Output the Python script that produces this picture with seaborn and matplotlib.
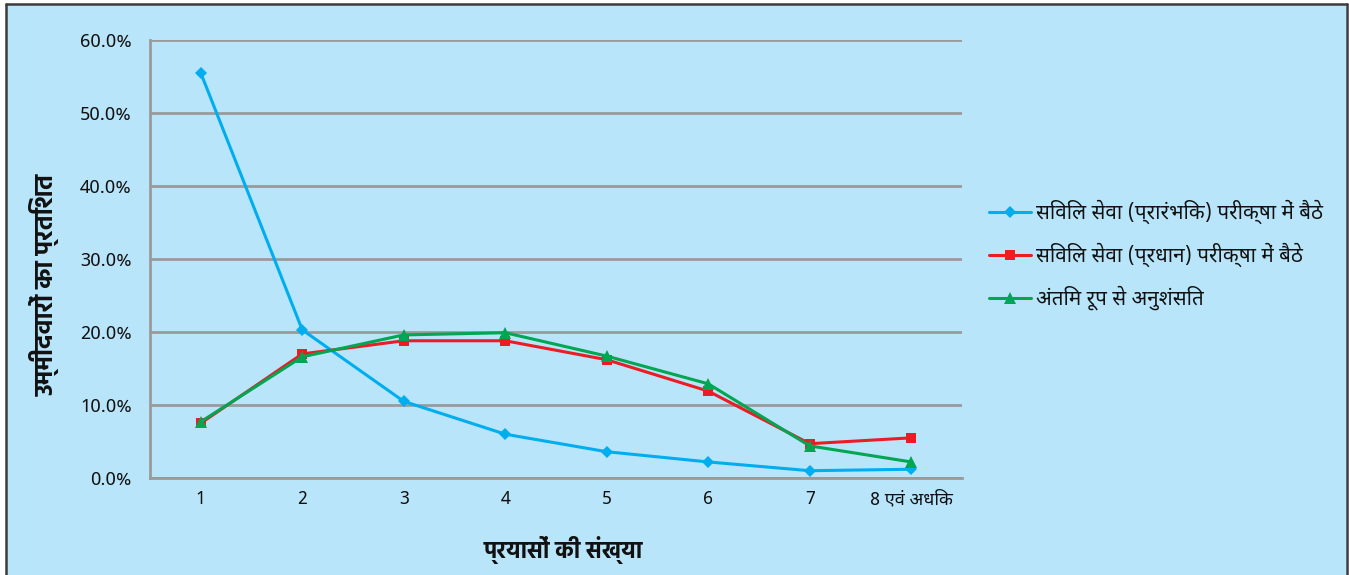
import matplotlib
matplotlib.use("Agg")
import matplotlib.pyplot as plt
from matplotlib.lines import Line2D
from matplotlib.patches import Rectangle
from matplotlib.ticker import FuncFormatter
import numpy as np
import pandas as pd
import seaborn as sns

# Number of attempts (categories)
attempts = ["1", "2", "3", "4", "5", "6", "7", "8 एवं अधिक"]

# Share of candidates (%) per number of attempts
prelims_appeared = [55.5, 20.3, 10.5, 6.0, 3.6, 2.2, 1.0, 1.2]
mains_appeared = [7.5, 17.0, 18.8, 18.8, 16.2, 11.9, 4.7, 5.5]
finally_recommended = [7.7, 16.6, 19.6, 19.9, 16.7, 12.9, 4.4, 2.2]

series_names = [
    "सिविल सेवा (प्रारंभिक) परीक्षा में बैठे",
    "सिविल सेवा (प्रधान) परीक्षा में बैठे",
    "अंतिम रूप से अनुशंसित",
]
series_values = [prelims_appeared, mains_appeared, finally_recommended]
series_colors = ["#00AEEF", "#ED1C24", "#00A651"]
series_markers = ["D", "s", "^"]
series_sizes = [6, 7, 8]

y_label = "उम्मीदवारों का प्रतिशत"
x_label = "प्रयासों की संख्या"

sns.set_theme(style="white")
plt.rcParams["font.family"] = ["Noto Sans Devanagari", "DejaVu Sans"]
bold_family = ["Hind", "Noto Sans Devanagari", "DejaVu Sans"]

W, H = 1349, 575
fig = plt.figure(figsize=(W / 100, H / 100), dpi=100, facecolor="white")

# Panel background and its frame
bg = "#B9E5FA"
fig.patches.append(Rectangle((7 / W, 0), (1346 - 7) / W, (H - 4) / H,
                             transform=fig.transFigure, facecolor=bg,
                             edgecolor="none", zorder=-5))
frame_kw = dict(transform=fig.transFigure, color="#3C3C3C", lw=1.8, zorder=-4)
fig.lines.append(Line2D([6 / W, 6 / W], [0, 1 - 3.5 / H], **frame_kw))
fig.lines.append(Line2D([6 / W, 1346.5 / W], [1 - 3.5 / H, 1 - 3.5 / H], **frame_kw))
fig.lines.append(Line2D([1346.5 / W, 1346.5 / W], [0, 1 - 3.5 / H], **frame_kw))

left, right, top, bottom = 150, 962, 40, 478
ax = fig.add_axes([left / W, (H - bottom) / H, (right - left) / W, (bottom - top) / H])
ax.set_facecolor("none")

rows = []
for name, vals in zip(series_names, series_values):
    for i, v in enumerate(vals):
        rows.append({"pos": i, "value": v, "series": name})
df = pd.DataFrame(rows)

for name, color, marker, ms in zip(series_names, series_colors, series_markers, series_sizes):
    sub = df[df["series"] == name]
    sns.lineplot(data=sub, x="pos", y="value", ax=ax, color=color, lw=2.2,
                 marker=marker, markersize=ms, markeredgewidth=0,
                 label=name, zorder=3)

ax.set_xlim(-0.5, len(attempts) - 0.5)
ax.set_ylim(0, 60)
ax.set_xticks(range(len(attempts)))
ax.set_xticklabels(attempts)
ax.set_yticks(np.arange(0, 61, 10))
ax.yaxis.set_major_formatter(FuncFormatter(lambda v, p: f"{v:.1f}%"))
ax.tick_params(axis="both", length=0, colors="#111111")
ax.tick_params(axis="x", pad=9, labelsize=13)
ax.tick_params(axis="y", pad=13, labelsize=13.5)

ax.grid(axis="y", color="#9A9A9A", lw=2)
ax.grid(axis="x", visible=False)
for s in ["top", "right"]:
    ax.spines[s].set_visible(False)
for s in ["left", "bottom"]:
    ax.spines[s].set_color("#9A9A9A")
    ax.spines[s].set_linewidth(2)

ax.set_xlabel("")
ax.set_ylabel("")
fig.text(563 / W, 1 - 550 / H, x_label, ha="center", va="center",
         fontsize=16.5, fontweight="bold", color="#111111", family=bold_family)
fig.text(45 / W, 1 - 285 / H, y_label, ha="center", va="center", rotation=90,
         fontsize=18, fontweight="bold", color="#111111", family=bold_family)

leg = ax.legend(loc="center left", bbox_to_anchor=(971 / W, 1 - 255 / H),
                bbox_transform=fig.transFigure, frameon=False, fontsize=14.8,
                handlelength=2.0, handletextpad=0.25, labelspacing=0.9)
for t in leg.get_texts():
    t.set_color("#111111")

fig.savefig("out.png", dpi=100, facecolor="white")
